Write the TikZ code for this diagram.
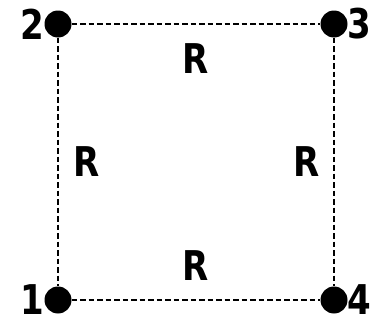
\documentclass[tikz,border=0pt]{standalone}
\usepackage{fontspec}
\setmainfont{DejaVu Sans}
\newfontfamily\lblfont{DejaVu Sans}[FakeStretch=0.83]
\usetikzlibrary{positioning}
\tikzset{
  vtx/.style={circle, fill=black, inner sep=0pt, minimum size=27pt},
  lbl/.style={font=\lblfont\fontsize{41}{48}\selectfont\bfseries, inner sep=1pt},
  rlbl/.style={font=\lblfont\fontsize{41}{48}\selectfont\bfseries, inner sep=0pt},
  link/.style={line width=2.8pt, dash pattern=on 5.5pt off 3pt},
}

\begin{document}
\begin{tikzpicture}[x=1pt, y=1pt]
    \useasboundingbox (0,0) rectangle (384,325);
    \node[vtx, label={[lbl, label distance=-1pt]left:1}]  (n1) at (58,25)  {};
    \node[vtx, label={[lbl, label distance=-1pt]left:2}]  (n2) at (58,301) {};
    \node[vtx, label={[lbl, label distance=-1pt]right:3}] (n3) at (334,301) {};
    \node[vtx, label={[lbl, label distance=-1pt]right:4}] (n4) at (334,25) {};
    % square edges
    \draw[link] (n2) -- node[rlbl, below=18.5pt] (r23) {R} (n3);
    \draw[link] (n2) -- node[rlbl, right=14pt] (r21) {R} (n1);
    \draw[link] (n3) -- node[rlbl, left=13pt] (r34) {R} (n4);
    \draw[link] (n1) -- node[rlbl, above=18pt] (r14) {R} (n4);
  \end{tikzpicture}
\end{document}
